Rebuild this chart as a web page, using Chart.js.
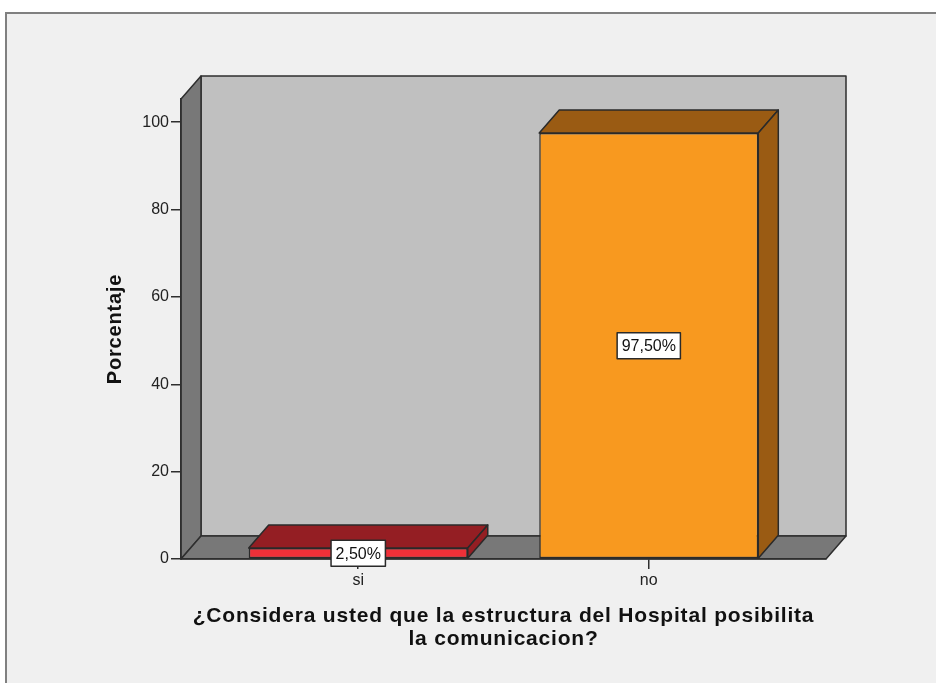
<!DOCTYPE html>
<html>
<head>
<meta charset="utf-8">
<title>Porcentaje</title>
<script src="https://cdn.jsdelivr.net/npm/chart.js@4.4.1/dist/chart.umd.min.js"></script>
<style>
  body { margin: 0; background: #ffffff; }
  canvas { display: block; }
</style>
</head>
<body>
<canvas id="chart" width="936" height="683"></canvas>
<script>
// answers and their share of respondents (%)
var categories = ['si', 'no'];
var percentages = [2.5, 97.5];
var frontColors = ['#ef3038', '#f8991f'];
var shadeColors = ['#941e23', '#9a5b13'];
var yTicks = [0, 20, 40, 60, 80, 100];

// depth of the 3D box, in pixels
var DX = 20;
var DY = 23;

function poly(ctx, pts, fill) {
  ctx.beginPath();
  ctx.moveTo(pts[0][0], pts[0][1]);
  for (var i = 1; i < pts.length; i++) ctx.lineTo(pts[i][0], pts[i][1]);
  ctx.closePath();
  ctx.fillStyle = fill;
  ctx.fill();
  ctx.stroke();
}

function pct(v) {
  return v.toFixed(2).replace('.', ',') + '%';
}

var box3d = {
  id: 'box3d',
  beforeDraw: function(chart) {
    var ctx = chart.ctx;
    var a = chart.chartArea;
    ctx.save();
    // panel
    ctx.fillStyle = '#ffffff';
    ctx.fillRect(0, 0, chart.width, chart.height);
    ctx.fillStyle = '#f0f0f0';
    ctx.fillRect(6, 13, chart.width - 6, chart.height - 13);
    ctx.strokeStyle = '#808080';
    ctx.lineWidth = 2;
    ctx.beginPath();
    ctx.moveTo(6, chart.height);
    ctx.lineTo(6, 13);
    ctx.lineTo(chart.width, 13);
    ctx.stroke();

    // back wall, side wall and floor
    ctx.strokeStyle = '#2e2e2e';
    ctx.lineWidth = 1.5;
    ctx.lineJoin = 'round';
    poly(ctx, [[a.left + DX, a.top - DY], [a.right + DX, a.top - DY],
               [a.right + DX, a.bottom - DY], [a.left + DX, a.bottom - DY]], '#c0c0c0');
    poly(ctx, [[a.left, a.bottom], [a.left, a.top],
               [a.left + DX, a.top - DY], [a.left + DX, a.bottom - DY]], '#787878');
    poly(ctx, [[a.left, a.bottom], [a.right, a.bottom],
               [a.right + DX, a.bottom - DY], [a.left + DX, a.bottom - DY]], '#787878');
    ctx.restore();
    // axis titles are drawn with a little tracking
    ctx.letterSpacing = '0.8px';
  },
  beforeDatasetsDraw: function(chart) {
    chart.ctx.letterSpacing = '0px';
  },
  afterDatasetsDraw: function(chart) {
    var ctx = chart.ctx;
    var meta = chart.getDatasetMeta(0);
    ctx.save();
    ctx.strokeStyle = '#2a2a2a';
    ctx.lineWidth = 1.5;
    ctx.lineJoin = 'round';
    meta.data.forEach(function(bar, i) {
      var p = bar.getProps(['x', 'y', 'base', 'width'], true);
      var l = p.x - p.width / 2;
      var r = p.x + p.width / 2;
      // top face
      poly(ctx, [[l, p.y], [r, p.y], [r + DX, p.y - DY], [l + DX, p.y - DY]], shadeColors[i]);
      // right face
      poly(ctx, [[r, p.y], [r, p.base], [r + DX, p.base - DY], [r + DX, p.y - DY]], shadeColors[i]);
    });
    // value boxes
    ctx.font = "16px Arial, 'Liberation Sans', sans-serif";
    ctx.textAlign = 'center';
    ctx.textBaseline = 'middle';
    meta.data.forEach(function(bar, i) {
      var p = bar.getProps(['x', 'y', 'base'], true);
      var txt = pct(percentages[i]);
      var w = ctx.measureText(txt).width + 9;
      var h = 26;
      var cy = (p.y + p.base) / 2;
      ctx.fillStyle = '#ffffff';
      ctx.fillRect(p.x - w / 2, cy - h / 2, w, h);
      ctx.strokeStyle = '#2a2a2a';
      ctx.strokeRect(p.x - w / 2, cy - h / 2, w, h);
      ctx.fillStyle = '#111111';
      ctx.fillText(txt, p.x, cy + 1);
    });
    ctx.restore();
  }
};

Chart.defaults.font.family = "Arial, 'Liberation Sans', sans-serif";

var ctx = document.getElementById('chart').getContext('2d');
var chart = new Chart(ctx, {
  type: 'bar',
  data: {
    datasets: [{
      data: categories.map(function(c, i) { return { x: i, y: percentages[i] }; }),
      backgroundColor: frontColors,
      borderColor: '#2a2a2a',
      borderWidth: 1.5,
      borderSkipped: false,
      barPercentage: 0.754,
      categoryPercentage: 1
    }]
  },
  options: {
    responsive: false,
    animation: false,
    layout: { padding: { left: 103, top: 99, right: 110, bottom: 0 } },
    plugins: {
      legend: { display: false },
      tooltip: { enabled: false }
    },
    scales: {
      x: {
        type: 'linear',
        min: -0.61,
        max: 1.61,
        offset: false,
        afterBuildTicks: function(scale) {
          scale.ticks = categories.map(function(c, i) { return { value: i }; });
        },
        afterFit: function(scale) { scale.height = 124; },
        grid: { offset: false, drawOnChartArea: false, drawTicks: true, tickLength: 10, color: '#2e2e2e', lineWidth: 1.5 },
        border: { display: true, color: '#2e2e2e', width: 1.5 },
        ticks: {
          z: 1,
          padding: 2,
          color: '#222222',
          font: { size: 16 },
          callback: function(v) { return categories[v]; }
        },
        title: {
          display: true,
          text: ['¿Considera usted que la estructura del Hospital posibilita', 'la comunicacion?'],
          color: '#111111',
          font: { size: 21, weight: 'bold', lineHeight: 1.1 },
          padding: { top: 0, bottom: 32 }
        }
      },
      y: {
        min: 0,
        max: 105.3,
        afterBuildTicks: function(scale) {
          scale.ticks = yTicks.map(function(v) { return { value: v }; });
        },
        afterFit: function(scale) { scale.width = 78; },
        grid: { drawOnChartArea: false, drawTicks: true, tickLength: 10, color: '#2e2e2e', lineWidth: 1.5 },
        border: { display: true, color: '#2e2e2e', width: 1.5 },
        ticks: {
          z: 1,
          padding: 2,
          color: '#222222',
          font: { size: 16 }
        },
        title: {
          display: true,
          text: 'Porcentaje',
          color: '#111111',
          font: { size: 20, weight: 'bold', lineHeight: 1.2 },
          padding: 0
        }
      }
    }
  },
  plugins: [box3d]
});
</script>
</body>
</html>
